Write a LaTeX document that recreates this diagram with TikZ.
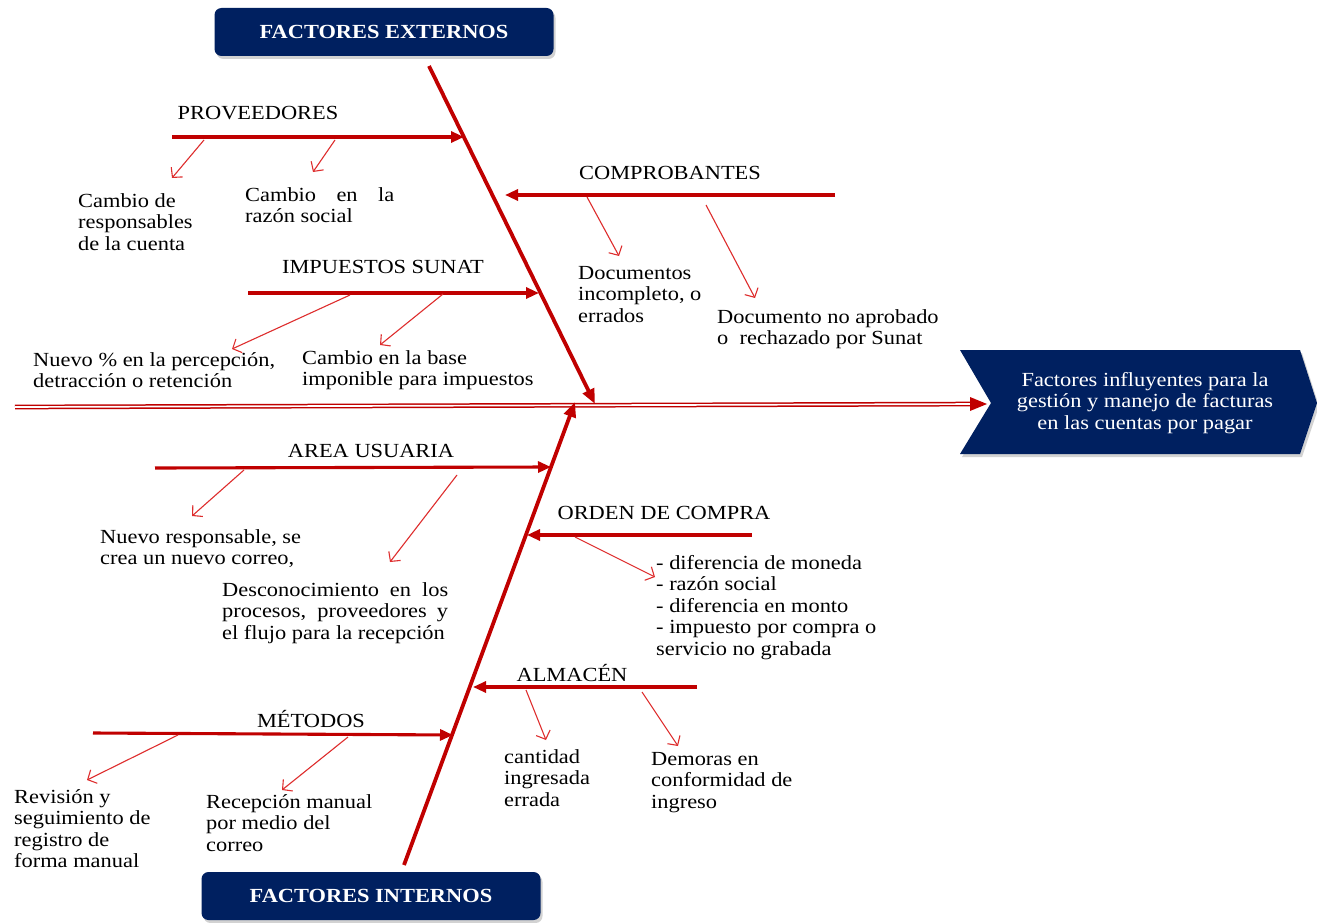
\documentclass[tikz,border=0pt]{standalone}
\usepackage{fontspec}
\setmainfont[FakeStretch=1.12]{Liberation Serif}
\usetikzlibrary{arrows.meta,shadows,calc}
\definecolor{navy}{RGB}{0,32,96}
\definecolor{bone}{RGB}{192,0,0}
\definecolor{twig}{RGB}{222,45,45}
\begin{document}
\begin{tikzpicture}[x=1pt,y=-1pt,
  fnt/.style={font=\fontsize{20}{21.5}\selectfont},
  txt/.style={fnt, inner sep=0pt, align=left, anchor=north west},
  cat/.style={fnt, inner sep=0pt},
  hdr/.style={fill=navy, text=white, rounded corners=7pt, minimum width=339pt,
    minimum height=48pt, font=\fontsize{20}{21.5}\selectfont\bfseries,
    drop shadow={shadow xshift=2pt, shadow yshift=-3pt, opacity=0.35}},
  bonearrow/.style={draw=bone, line width=3.8pt, -{Triangle[length=15pt,width=12pt]}},
  brancharrow/.style={draw=bone, line width=3.1pt, -{Triangle[length=13pt,width=11pt]}},
  twigarrow/.style={draw=twig, line width=1.1pt, -{Straight Barb[length=7pt,width=15pt,line width=1.1pt]}}
]
\useasboundingbox (0,0) rectangle (1317,923);
\fill[white] (0,0) rectangle (1317,923);

% head
\fill[navy, drop shadow={shadow xshift=2pt, shadow yshift=-3pt, opacity=0.35}]
  (960,350) -- (1300,350) -- (1317,403) -- (1300,454) -- (960,454) -- (991,403) -- cycle;
\node[fnt, text=white, align=center, inner sep=0pt] (head) at (1145,403)
  {Factores influyentes para la\\gestión y manejo de facturas\\en las cuentas por pagar};

% headers
\node[hdr] (ext) at (384,32) {FACTORES EXTERNOS};
\node[hdr] (int) at (371,896) {FACTORES INTERNOS};

% spine
\coordinate (tail) at (15,407);
\coordinate (tip) at (987,404);
\draw[draw=bone, double=white, line width=1.5pt, double distance=1.7pt, shorten >=12pt] (tail) -- (tip);
\fill[bone] (tip) -- ($(tip)+(-17,-7)$) -- ($(tip)+(-17,7)$) -- cycle;

% bones
\coordinate (ubA) at (429,66);
\coordinate (ubB) at (595,404);
\coordinate (lbA) at (404,865);
\coordinate (lbB) at (575,402);
\draw[bonearrow] (ubA) -- (ubB);
\draw[bonearrow] (lbA) -- (lbB);

% PROVEEDORES
\coordinate (pS) at (172,137); \coordinate (pE) at (464,137);
\draw[brancharrow] (pS) -- (pE);
\node[cat] (pL) at (258,113) {PROVEEDORES};
\coordinate (p1a) at (204,140); \coordinate (p1b) at (172,178);
\coordinate (p2a) at (335,140); \coordinate (p2b) at (313,172);
\draw[twigarrow] (p1a) -- (p1b);
\draw[twigarrow] (p2a) -- (p2b);
\node[txt] (pT1) at (78,193) {Cambio de\\responsables\\de la cuenta};
\node[txt] (pT2) at (245,187) {\makebox[149pt][s]{Cambio en la}\\razón social};

% COMPROBANTES
\coordinate (cS) at (835,195); \coordinate (cE) at (505,195);
\draw[brancharrow] (cS) -- (cE);
\node[cat] (cL) at (670,173) {COMPROBANTES};
\coordinate (c1a) at (587,197); \coordinate (c1b) at (619,256);
\coordinate (c2a) at (706,205); \coordinate (c2b) at (755,298);
\draw[twigarrow] (c1a) -- (c1b);
\draw[twigarrow] (c2a) -- (c2b);
\node[txt] (cT1) at (578,266) {Documentos\\incompleto, o\\errados};
\node[txt] (cT2) at (717,309) {Documento no aprobado\\o\ \ rechazado por Sunat};

% IMPUESTOS SUNAT
\coordinate (iS) at (248,293); \coordinate (iE) at (539,293);
\draw[brancharrow] (iS) -- (iE);
\node[cat] (iL) at (383,267) {IMPUESTOS SUNAT};
\coordinate (i1a) at (350,295); \coordinate (i1b) at (232,349);
\coordinate (i2a) at (443,294); \coordinate (i2b) at (380,345);
\draw[twigarrow] (i1a) -- (i1b);
\draw[twigarrow] (i2a) -- (i2b);
\node[txt] (iT1) at (33,352) {Nuevo \% en la percepción,\\detracción o retención};
\node[txt] (iT2) at (302,350) {Cambio en la base\\imponible para impuestos};

% AREA USUARIA
\coordinate (aS) at (155,468); \coordinate (aE) at (551,467);
\draw[brancharrow] (aS) -- (aE);
\node[cat] (aL) at (371,451) {AREA USUARIA};
\coordinate (a1a) at (244,470); \coordinate (a1b) at (192,516);
\coordinate (a2a) at (457,475); \coordinate (a2b) at (390,562);
\draw[twigarrow] (a1a) -- (a1b);
\draw[twigarrow] (a2a) -- (a2b);
\node[txt] (aT1) at (100,529) {Nuevo responsable, se\\crea un nuevo correo,};
\node[txt] (aT2) at (222,582) {\makebox[226pt][s]{Desconocimiento en los}\\\makebox[226pt][s]{procesos, proveedores y}\\el flujo para la recepción};

% ORDEN DE COMPRA
\coordinate (oS) at (752,535); \coordinate (oE) at (527,535);
\draw[brancharrow] (oS) -- (oE);
\node[cat] (oL) at (664,513) {ORDEN DE COMPRA};
\coordinate (o1a) at (575,537); \coordinate (o1b) at (655,577);
\draw[twigarrow] (o1a) -- (o1b);
\node[txt] (oT) at (656,555) {- diferencia de moneda\\- razón social\\- diferencia en monto\\- impuesto por compra o\\servicio no grabada};

% ALMACEN
\coordinate (mS) at (697,687); \coordinate (mE) at (473,687);
\draw[brancharrow] (mS) -- (mE);
\node[cat] (mL) at (572,673) {ALMACÉN};
\coordinate (m1a) at (526,690); \coordinate (m1b) at (546,740);
\coordinate (m2a) at (642,692); \coordinate (m2b) at (678,746);
\draw[twigarrow] (m1a) -- (m1b);
\draw[twigarrow] (m2a) -- (m2b);
\node[txt] (mT1) at (504,749) {cantidad\\ingresada\\errada};
\node[txt] (mT2) at (651,752) {Demoras en\\conformidad de\\ingreso};

% METODOS
\coordinate (tS) at (93,733); \coordinate (tE) at (453,735);
\draw[brancharrow] (tS) -- (tE);
\node[cat] (tL) at (311,719) {MÉTODOS};
\coordinate (t1a) at (178,735); \coordinate (t1b) at (87,780);
\coordinate (t2a) at (348,737); \coordinate (t2b) at (282,790);
\draw[twigarrow] (t1a) -- (t1b);
\draw[twigarrow] (t2a) -- (t2b);
\node[txt] (tT1) at (14,789) {Revisión y\\seguimiento de\\registro de\\forma manual};
\node[txt] (tT2) at (206,794) {Recepción manual\\por medio del\\correo};
\end{tikzpicture}
\end{document}
